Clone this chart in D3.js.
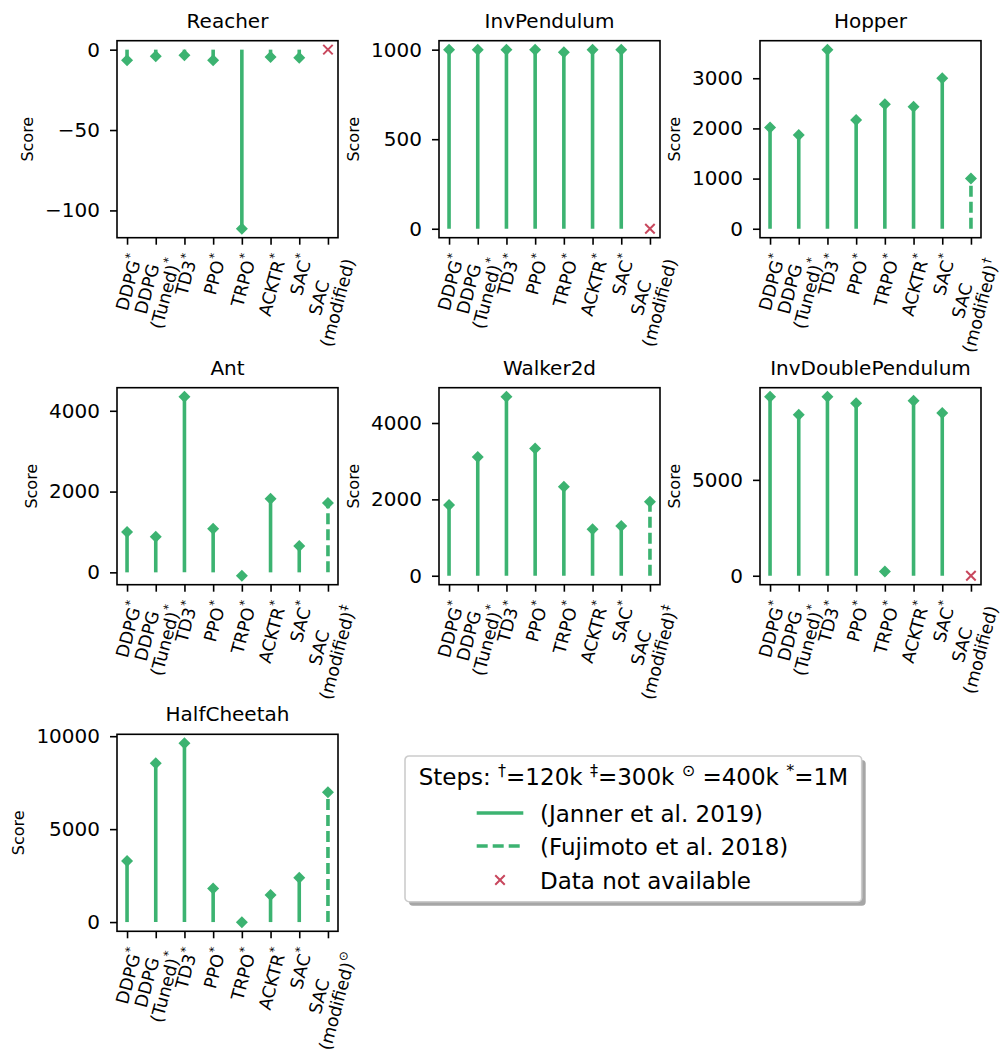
<!DOCTYPE html>
<html>
<head>
<meta charset="utf-8">
<script src="https://cdn.jsdelivr.net/npm/d3@7"></script>
<style>
  body { margin: 0; background: #fff; }
  text { font-family: "DejaVu Sans", sans-serif; }
</style>
</head>
<body>
<div id="chart"></div>
<script>
const width = 1001;
const height = 1054;

// data
const algorithms = ['DDPG', 'DDPG\n(Tuned)', 'TD3', 'PPO', 'TRPO', 'ACKTR', 'SAC', 'SAC\n(modified)'];
const envNames = ['Reacher', 'InvPendulum', 'Hopper', 'Ant', 'Walker2d', 'InvDoublePendulum', 'HalfCheetah'];
const modifiedMarks = ['', '', '\u2020', '\u2021', '\u2021', '', '\u2299'];

// null = data not available
const reacher = [-6.6, -4.1, -3.5, -6.6, -111.4, -4.6, -5.0, null];
const invPendulum = [1000, 1000, 1000, 1000, 985, 1000, 1000, null];
const hopper = [2020, 1870, 3570, 2170, 2480, 2430, 3000, 1000];
const ant = [1000, 880, 4350, 1080, -84, 1820, 655, 1720];
const walker2d = [1850, 3110, 4690, 3330, 2330, 1220, 1300, 1940];
const invDoublePendulum = [9340, 8390, 9340, 9000, 225, 9120, 8490, null];
const halfCheetah = [3290, 8550, 9620, 1800, -15, 1450, 2380, 6990];
const allScores = [reacher, invPendulum, hopper, ant, walker2d, invDoublePendulum, halfCheetah];

const yTicks = [
  [0, -50, -100],
  [0, 500, 1000],
  [0, 1000, 2000, 3000],
  [0, 2000, 4000],
  [0, 2000, 4000],
  [0, 5000],
  [0, 5000, 10000],
];

const legendLabels = ['(Janner et al. 2019)', '(Fujimoto et al. 2018)', 'Data not available'];

const green = '#3cb371';
const red = '#c8475d';

// layout
const colX = [117, 439, 760];
const rowY = [40.7, 387.7, 734.3];
const pw = 221;
const ph = 197;
const lineH = 19;
const angle = -75;

const svg = d3
  .select('#chart')
  .append('svg')
  .attr('width', width)
  .attr('height', height)
  .attr('viewBox', [0, 0, width, height]);

// marker shapes
const diamond = {
  draw(ctx, size) {
    const r = Math.sqrt(size / 2);
    ctx.moveTo(0, -r);
    ctx.lineTo(r, 0);
    ctx.lineTo(0, r);
    ctx.lineTo(-r, 0);
    ctx.closePath();
  },
};
const cross = {
  draw(ctx, size) {
    const r = Math.sqrt(size) / 2;
    ctx.moveTo(-r, -r);
    ctx.lineTo(r, r);
    ctx.moveTo(r, -r);
    ctx.lineTo(-r, r);
  },
};

allScores.forEach((scores, i) => drawPanel(i, scores));

function drawPanel(i, scores) {
  const left = colX[i % 3];
  const top = rowY[Math.floor(i / 3)];
  const g = svg.append('g').attr('transform', `translate(${left},${top})`);

  const x = d3.scalePoint().domain(algorithms).range([0, pw]).padding(0.35);
  const vals = scores.filter((v) => v !== null).concat([0]);
  const lo = d3.min(vals);
  const hi = d3.max(vals);
  const span = hi - lo;
  const y = d3
    .scaleLinear()
    .domain([lo - 0.05 * span, hi + 0.05 * span])
    .range([ph, 0]);

  const points = algorithms.map((a, j) => ({ a, j, v: scores[j] }));

  // stems
  g.selectAll('line.stem')
    .data(points.filter((d) => d.v !== null))
    .join('line')
    .attr('class', 'stem')
    .attr('x1', (d) => x(d.a))
    .attr('x2', (d) => x(d.a))
    .attr('y1', y(0))
    .attr('y2', (d) => y(d.v))
    .attr('stroke', green)
    .attr('stroke-width', 3.6)
    .attr('stroke-dasharray', (d) => (d.j === 7 ? '11,5' : null));

  // markers
  g.selectAll('path.marker')
    .data(points.filter((d) => d.v !== null))
    .join('path')
    .attr('class', 'marker')
    .attr('transform', (d) => `translate(${x(d.a)},${y(d.v)})`)
    .attr('d', d3.symbol(diamond, 72))
    .attr('fill', green);

  g.selectAll('path.na')
    .data(points.filter((d) => d.v === null))
    .join('path')
    .attr('class', 'na')
    .attr('transform', (d) => `translate(${x(d.a)},${y(0)})`)
    .attr('d', d3.symbol(cross, 90))
    .attr('fill', 'none')
    .attr('stroke', red)
    .attr('stroke-width', 2);

  // frame
  g.append('rect')
    .attr('width', pw)
    .attr('height', ph)
    .attr('fill', 'none')
    .attr('stroke', '#000')
    .attr('stroke-width', 1.6);

  // y axis
  const ya = g
    .append('g')
    .call(
      d3.axisLeft(y).tickValues(yTicks[i]).tickSize(7).tickPadding(10).tickFormat(d3.format('d'))
    )
    .attr('font-size', 20)
    .attr('font-family', '"DejaVu Sans", sans-serif');
  ya.select('.domain').remove();
  ya.selectAll('.tick line').attr('stroke-width', 1.6);
  ya.selectAll('.tick text').attr('fill', '#000');

  const tickLeft = d3.min(ya.selectAll('.tick text').nodes(), (n) => n.getBBox().x);
  g.append('text')
    .attr('transform', `translate(${tickLeft - 12},${ph / 2}) rotate(-90)`)
    .attr('text-anchor', 'middle')
    .attr('font-size', 16)
    .text('Score');

  // x axis with rotated, multi-line labels
  const xa = g
    .append('g')
    .attr('transform', `translate(0,${ph})`)
    .call(d3.axisBottom(x).tickSize(7).tickFormat(''));
  xa.select('.domain').remove();
  xa.selectAll('.tick line').attr('stroke-width', 1.6);
  xa.selectAll('.tick text').remove();

  const rad = (angle * Math.PI) / 180;
  xa.selectAll('.tick').each(function (a, j) {
    const sup = j < 7 ? '*' : modifiedMarks[i];
    const lines = a.split('\n');
    const outer = d3.select(this).append('g');
    const inner = outer.append('g').attr('transform', `rotate(${angle})`);
    lines.forEach((ln, k) => {
      const t = inner
        .append('text')
        .attr('y', k * lineH)
        .attr('text-anchor', 'middle')
        .attr('font-size', 17.5)
        .attr('fill', '#000');
      t.append('tspan').text(ln);
      if (k === lines.length - 1 && sup) {
        t.append('tspan').attr('font-size', 12).attr('dy', -8).text(sup);
      }
    });
    const b = inner.node().getBBox();
    const corners = [
      [b.x, b.y],
      [b.x + b.width, b.y],
      [b.x, b.y + b.height],
      [b.x + b.width, b.y + b.height],
    ].map(([px, py]) => [
      px * Math.cos(rad) - py * Math.sin(rad),
      px * Math.sin(rad) + py * Math.cos(rad),
    ]);
    const minX = d3.min(corners, (c) => c[0]);
    const maxX = d3.max(corners, (c) => c[0]);
    const minY = d3.min(corners, (c) => c[1]);
    outer.attr('transform', `translate(${-(minX + maxX) / 2},${7 + 7 - minY})`);
  });

  // title
  g.append('text')
    .attr('x', pw / 2)
    .attr('y', -13)
    .attr('text-anchor', 'middle')
    .attr('font-size', 20)
    .text(envNames[i]);
}

// legend
const lgW = 456.7;
const lgH = 145.7;
const lg = svg.append('g').attr('transform', 'translate(405,756)');
lg.append('rect')
  .attr('x', 4)
  .attr('y', 4)
  .attr('width', lgW)
  .attr('height', lgH)
  .attr('rx', 4)
  .attr('fill', '#4d4d4d')
  .attr('opacity', 0.5);
lg.append('rect')
  .attr('width', lgW)
  .attr('height', lgH)
  .attr('rx', 4)
  .attr('fill', '#fff')
  .attr('stroke', '#cccccc')
  .attr('stroke-width', 1.6);

const lgTitle = lg
  .append('text')
  .attr('x', lgW / 2)
  .attr('y', 29)
  .attr('text-anchor', 'middle')
  .attr('font-size', 23);
const titleParts = [
  ['Steps: ', false],
  ['\u2020', true],
  ['=120k ', false],
  ['\u2021', true],
  ['=300k ', false],
  ['\u2299', true],
  [' =400k ', false],
  ['*', true],
  ['=1M', false],
];
titleParts.forEach(([s, isSup], k) => {
  const prevSup = k > 0 && titleParts[k - 1][1];
  lgTitle
    .append('tspan')
    .attr('font-size', isSup ? 16 : 23)
    .attr('dy', isSup ? -9 : prevSup ? 9 : 0)
    .text(s);
});

const rowYs = [57, 90, 124];
legendLabels.forEach((label, k) => {
  const ry = rowYs[k];
  if (k < 2) {
    lg.append('line')
      .attr('x1', 71.7)
      .attr('x2', 118.3)
      .attr('y1', ry)
      .attr('y2', ry)
      .attr('stroke', green)
      .attr('stroke-width', 3.6)
      .attr('stroke-dasharray', k === 1 ? '11,5' : null);
  } else {
    lg.append('path')
      .attr('transform', `translate(95,${ry})`)
      .attr('d', d3.symbol(cross, 90))
      .attr('fill', 'none')
      .attr('stroke', red)
      .attr('stroke-width', 2);
  }
  lg.append('text')
    .attr('x', 135)
    .attr('y', ry + 8.5)
    .attr('font-size', 23)
    .text(label);
});
</script>
</body>
</html>
